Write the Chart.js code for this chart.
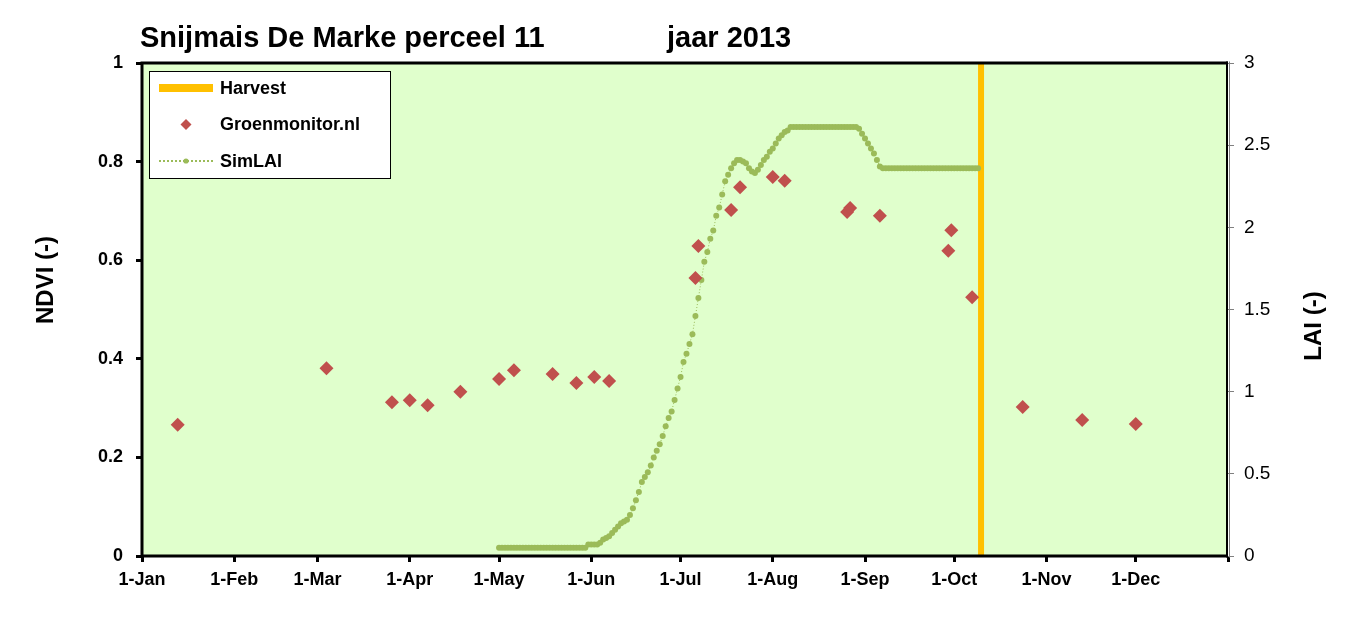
<!DOCTYPE html>
<html lang="nl">
<head>
    <meta charset="UTF-8">
    <title>Snijmais De Marke perceel 11 - jaar 2013</title>
    <script src="https://cdn.jsdelivr.net/npm/chart.js"></script>
    <style>
        body {
            margin: 0;
            background: #fff;
        }
        #wrap {
            width: 1367px;
            height: 642px;
            position: relative;
        }
    </style>
</head>
<body>
<div id="wrap"><canvas id="ndviChart"></canvas></div>
<script>
    // x axis: day of year 2013 (0 = 1 Jan)
    const monthStarts = [0, 31, 59, 90, 120, 151, 181, 212, 243, 273, 304, 334, 365];
    const monthLabels = ['1-Jan', '1-Feb', '1-Mar', '1-Apr', '1-May', '1-Jun', '1-Jul',
                         '1-Aug', '1-Sep', '1-Oct', '1-Nov', '1-Dec', ''];

    // Groenmonitor.nl NDVI observations
    const ndviDays = [12, 62, 84, 90, 96, 107, 120, 125, 138, 146, 152, 157,
                      186, 187, 198, 201, 212, 216, 237, 238, 248, 271, 272, 279,
                      296, 316, 334];
    const ndviValues = [0.266, 0.381, 0.312, 0.316, 0.306, 0.333, 0.359, 0.377, 0.369, 0.351, 0.363, 0.355,
                        0.564, 0.629, 0.702, 0.748, 0.769, 0.761, 0.698, 0.706, 0.690, 0.619, 0.661, 0.525,
                        0.302, 0.276, 0.268];

    // simulated LAI, one value per day starting at laiFirstDay (1 May)
    const laiFirstDay = 120;
    const laiValues = [
        0.05, 0.05, 0.05, 0.05, 0.05, 0.05, 0.05, 0.05, 0.05, 0.05,
        0.05, 0.05, 0.05, 0.05, 0.05, 0.05, 0.05, 0.05, 0.05, 0.05,
        0.05, 0.05, 0.05, 0.05, 0.05, 0.05, 0.05, 0.05, 0.05, 0.05,
        0.07, 0.07, 0.07, 0.07, 0.08, 0.10, 0.11, 0.12, 0.14, 0.16,
        0.18, 0.20, 0.21, 0.22, 0.25, 0.29, 0.34, 0.39, 0.45, 0.48,
        0.51, 0.55, 0.60, 0.64, 0.68, 0.73, 0.79, 0.84, 0.88, 0.95,
        1.02, 1.09, 1.18, 1.23, 1.29, 1.35, 1.46, 1.57, 1.68, 1.79,
        1.85, 1.93, 1.98, 2.07, 2.12, 2.20, 2.28, 2.32, 2.36, 2.39,
        2.41, 2.41, 2.40, 2.39, 2.36, 2.34, 2.33, 2.35, 2.38, 2.41,
        2.43, 2.46, 2.48, 2.51, 2.54, 2.56, 2.58, 2.59, 2.61, 2.61,
        2.61, 2.61, 2.61, 2.61, 2.61, 2.61, 2.61, 2.61, 2.61, 2.61,
        2.61, 2.61, 2.61, 2.61, 2.61, 2.61, 2.61, 2.61, 2.61, 2.61,
        2.61, 2.60, 2.57, 2.54, 2.51, 2.48, 2.45, 2.41, 2.37, 2.36,
        2.36, 2.36, 2.36, 2.36, 2.36, 2.36, 2.36, 2.36, 2.36, 2.36,
        2.36, 2.36, 2.36, 2.36, 2.36, 2.36, 2.36, 2.36, 2.36, 2.36,
        2.36, 2.36, 2.36, 2.36, 2.36, 2.36, 2.36, 2.36, 2.36, 2.36,
        2.36, 2.36
    ];

    // harvest date (day of year)
    const harvestDay = 282;
    const harvestRange = [0, 1];

    const FONT = '"Liberation Sans", Arial, sans-serif';

    const ndviPoints = ndviDays.map((d, i) => ({ x: d, y: ndviValues[i] }));
    const laiPoints = laiValues.map((v, i) => ({ x: laiFirstDay + i, y: v }));
    const harvestPoints = harvestRange.map(v => ({ x: harvestDay, y: v }));

    // tick labels like "1", "0.8", "2.5"
    const plainNumber = v => String(Math.round(v * 100) / 100);

    // light green plot area
    const plotBackground = {
        id: 'plotBackground',
        beforeDraw(chart) {
            const a = chart.chartArea, ctx = chart.ctx;
            ctx.save();
            ctx.fillStyle = '#E0FFCC';
            ctx.fillRect(a.left, a.top, a.right - a.left, a.bottom - a.top);
            ctx.restore();
        }
    };

    // frame, title, axis titles and the boxed legend
    const decorations = {
        id: 'decorations',
        afterDatasetsDraw(chart) {
            const a = chart.chartArea, ctx = chart.ctx;
            ctx.save();

            // frame
            ctx.strokeStyle = '#000';
            ctx.lineWidth = 3;
            ctx.beginPath();
            ctx.moveTo(a.right, a.top);
            ctx.lineTo(a.left, a.top);
            ctx.lineTo(a.left, a.bottom);
            ctx.lineTo(a.right, a.bottom);
            ctx.stroke();
            ctx.lineWidth = 2;
            ctx.beginPath();
            ctx.moveTo(a.right - 1, a.top - 1.5);
            ctx.lineTo(a.right - 1, a.bottom + 1.5);
            ctx.stroke();
            ctx.strokeStyle = '#808080';
            ctx.lineWidth = 1;
            ctx.beginPath();
            ctx.moveTo(a.right + 1.5, a.top - 1.5);
            ctx.lineTo(a.right + 1.5, a.bottom + 1.5);
            ctx.stroke();

            // title
            ctx.fillStyle = '#000';
            ctx.font = 'bold 29px ' + FONT;
            ctx.textBaseline = 'alphabetic';
            ctx.textAlign = 'left';
            ctx.fillText('Snijmais De Marke perceel 11', 140, 47);
            ctx.fillText('jaar 2013', 667, 47);

            // axis titles
            ctx.font = 'bold 24px ' + FONT;
            ctx.textAlign = 'center';
            ctx.textBaseline = 'middle';
            ctx.save();
            ctx.translate(46, 280);
            ctx.rotate(-Math.PI / 2);
            ctx.fillText('NDVI (-)', 0, 0);
            ctx.restore();
            ctx.save();
            ctx.translate(1314, 326);
            ctx.rotate(-Math.PI / 2);
            ctx.fillText('LAI (-)', 0, 0);
            ctx.restore();

            // legend
            const lx = a.left + 7, ly = a.top + 8, lw = 241, lh = 107;
            ctx.fillStyle = '#fff';
            ctx.fillRect(lx, ly, lw, lh);
            ctx.strokeStyle = '#000';
            ctx.lineWidth = 1;
            ctx.strokeRect(lx + 0.5, ly + 0.5, lw, lh);

            ctx.font = 'bold 18px ' + FONT;
            ctx.textAlign = 'left';
            ctx.textBaseline = 'middle';
            chart.data.datasets.forEach((ds, i) => {
                const cy = ly + 17 + i * 36.5;
                const sx = lx + 10, ex = lx + 64, mx = (sx + ex) / 2;
                if (ds.showLine !== false) {
                    ctx.save();
                    ctx.strokeStyle = ds.borderColor;
                    ctx.lineWidth = ds.pointRadius ? 2 : ds.borderWidth + 2;
                    ctx.setLineDash(ds.pointRadius ? [2, 2] : []);
                    ctx.beginPath();
                    ctx.moveTo(sx, cy);
                    ctx.lineTo(ex, cy);
                    ctx.stroke();
                    ctx.restore();
                }
                if (ds.pointRadius) {
                    ctx.fillStyle = ds.pointBackgroundColor;
                    ctx.beginPath();
                    if (ds.pointStyle === 'rectRot') {
                        const r = 5.5;
                        ctx.moveTo(mx, cy - r);
                        ctx.lineTo(mx + r, cy);
                        ctx.lineTo(mx, cy + r);
                        ctx.lineTo(mx - r, cy);
                    } else {
                        ctx.arc(mx, cy, 2.6, 0, Math.PI * 2);
                    }
                    ctx.fill();
                }
                ctx.fillStyle = '#000';
                ctx.fillText(ds.label, lx + 71, cy + 1);
            });
            ctx.restore();
        }
    };

    const ctx = document.getElementById('ndviChart').getContext('2d');
    const myChart = new Chart(ctx, {
        type: 'line',
        data: {
            datasets: [{
                label: 'Harvest',
                data: harvestPoints,
                yAxisID: 'y',
                borderColor: '#FFC000',
                borderWidth: 6,
                pointRadius: 0,
                order: 3
            }, {
                label: 'Groenmonitor.nl',
                data: ndviPoints,
                yAxisID: 'y',
                showLine: false,
                pointStyle: 'rectRot',
                pointRadius: 7,
                pointBackgroundColor: '#C0504D',
                pointBorderWidth: 0,
                borderColor: '#C0504D',
                order: 1
            }, {
                label: 'SimLAI',
                data: laiPoints,
                yAxisID: 'y2',
                borderColor: '#9BBB59',
                borderWidth: 1,
                borderDash: [1, 2],
                pointRadius: 3,
                pointBackgroundColor: '#9BBB59',
                pointBorderWidth: 0,
                order: 2
            }]
        },
        options: {
            responsive: true,
            maintainAspectRatio: false,
            animation: false,
            layout: { padding: { top: 63, left: 0, right: 0, bottom: 0 } },
            plugins: {
                legend: { display: false },
                title: { display: false },
                tooltip: { enabled: false }
            },
            scales: {
                x: {
                    type: 'linear',
                    position: 'bottom',
                    min: 0,
                    max: 365,
                    border: { display: false },
                    grid: { drawOnChartArea: false, drawTicks: true, tickLength: 6, color: '#000', lineWidth: 3 },
                    afterBuildTicks: scale => { scale.ticks = monthStarts.map(v => ({ value: v })); },
                    afterFit: scale => { scale.height = 86; },
                    ticks: {
                        autoSkip: false,
                        maxRotation: 0,
                        padding: 7,
                        color: '#000',
                        font: { family: FONT, size: 18, weight: 'bold' },
                        callback: value => monthLabels[monthStarts.indexOf(value)]
                    }
                },
                y: {
                    position: 'left',
                    min: 0,
                    max: 1,
                    border: { display: false },
                    grid: { drawOnChartArea: false, drawTicks: true, tickLength: 6, color: '#000', lineWidth: 3 },
                    afterFit: scale => { scale.width = 142; },
                    ticks: {
                        stepSize: 0.2,
                        padding: 13,
                        color: '#000',
                        font: { family: FONT, size: 18, weight: 'bold' },
                        callback: plainNumber
                    }
                },
                y2: {
                    position: 'right',
                    min: 0,
                    max: 3,
                    border: { display: false },
                    grid: { drawOnChartArea: false, drawTicks: true, tickLength: 6, color: '#808080', lineWidth: 1 },
                    afterFit: scale => { scale.width = 139; },
                    ticks: {
                        stepSize: 0.5,
                        padding: 10,
                        color: '#000',
                        font: { family: FONT, size: 19 },
                        callback: plainNumber
                    }
                }
            }
        },
        plugins: [plotBackground, decorations]
    });
</script>
</body>
</html>
